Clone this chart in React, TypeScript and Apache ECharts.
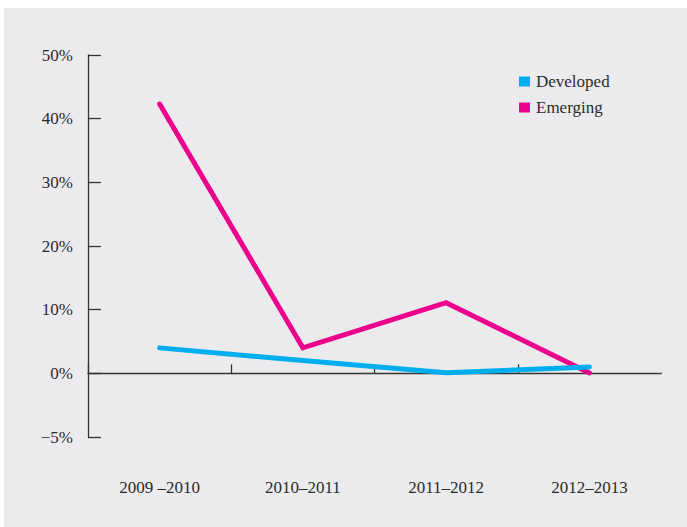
import React, { useEffect, useRef } from "react";
import * as echarts from "echarts";

const categories = ["2009 –2010", "2010–2011", "2011–2012", "2012–2013"];
const developed = [4.0, 2.0, 0.1, 1.0];
const emerging = [42.3, 4.0, 11.1, 0.05];
const seriesNames = ["Developed", "Emerging"];
const yTicks = [-10, 0, 10, 20, 30, 40, 50];
const yTickLabels = ["−5%", "0%", "10%", "20%", "30%", "40%", "50%"];

const FONT = "'Liberation Serif', 'Times New Roman', serif";
const TEXT = "#2b2b2b";
const AXIS = "#333333";
const BG = "#ebebee";

export default function App() {
  const ref = useRef<HTMLDivElement>(null);
  useEffect(() => {
    if (!ref.current) return;
    const chart = echarts.init(ref.current, undefined, { renderer: "svg" });
    chart.setOption({
      animation: false,
      backgroundColor: BG,
      textStyle: { fontFamily: FONT },
      grid: { left: 84, right: 26, top: 47, bottom: 90, containLabel: false },
      legend: {
        orient: "vertical",
        left: 510,
        top: 60,
        itemWidth: 11,
        itemHeight: 10,
        itemGap: 9,
        icon: "rect",
        data: seriesNames,
        textStyle: { fontFamily: FONT, fontSize: 17, color: TEXT, padding: [0, 0, 0, 1] },
      },
      graphic: [
        {
          type: "rect",
          z: 100,
          shape: { x: 653, y: 354, width: 8, height: 10.6 },
          style: { fill: BG },
        },
      ],
      xAxis: [
        {
          type: "category",
          data: categories,
          boundaryGap: true,
          position: "bottom",
          axisLine: { show: true, onZero: true, lineStyle: { color: AXIS, width: 1.3 } },
          axisTick: { show: true, inside: true, length: 9, lineStyle: { color: AXIS, width: 1.3 } },
          axisLabel: { show: false },
          splitLine: { show: false },
        },
        {
          type: "category",
          data: categories,
          boundaryGap: true,
          position: "bottom",
          axisLine: { show: false, onZero: false },
          axisTick: { show: false },
          axisLabel: { show: true, margin: 42, fontFamily: FONT, fontSize: 17, color: TEXT },
          splitLine: { show: false },
        },
      ],
      yAxis: {
        type: "value",
        min: yTicks[0],
        max: yTicks[yTicks.length - 1],
        interval: 10,
        axisLine: { show: true, lineStyle: { color: AXIS, width: 1.3 } },
        axisTick: { show: true, inside: true, length: 13, lineStyle: { color: AXIS, width: 1.3 } },
        axisLabel: {
          margin: 15,
          fontFamily: FONT,
          fontSize: 17,
          color: TEXT,
          formatter: (v: number) => {
            const i = yTicks.indexOf(v);
            return i >= 0 ? yTickLabels[i] : "";
          },
        },
        splitLine: { show: false },
      },
      series: [
        {
          name: "Emerging",
          type: "line",
          xAxisIndex: 0,
          data: emerging,
          showSymbol: false,
          symbol: "none",
          color: "#ec008c",
          lineStyle: { width: 5, color: "#ec008c", cap: "round", join: "miter" },
          z: 2,
        },
        {
          name: "Developed",
          type: "line",
          xAxisIndex: 0,
          data: developed,
          showSymbol: false,
          symbol: "none",
          color: "#00aeef",
          lineStyle: { width: 5, color: "#00aeef", cap: "round", join: "miter" },
          z: 3,
        },
      ],
    });
    return () => chart.dispose();
  }, []);
  return (
    <div
      ref={ref}
      style={{ position: "absolute", left: 4, top: 8, width: 683, height: 519 }}
    />
  );
}
